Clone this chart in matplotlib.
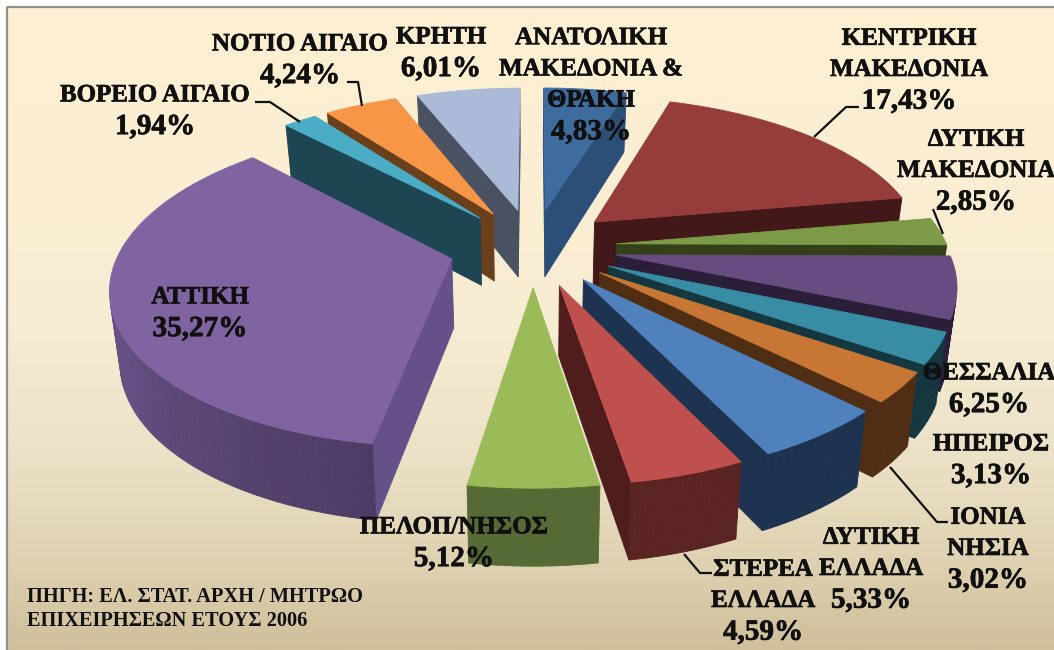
import numpy as np
import matplotlib
matplotlib.use("Agg")
import matplotlib.pyplot as plt
import matplotlib.patheffects as pe
from matplotlib.colors import to_rgb, to_hex
from matplotlib.patches import Polygon, Rectangle

regions = ["ΑΝΑΤΟΛΙΚΗ\nΜΑΚΕΔΟΝΙΑ &\nΘΡΑΚΗ", "ΚΕΝΤΡΙΚΗ\nΜΑΚΕΔΟΝΙΑ", "ΔΥΤΙΚΗ\nΜΑΚΕΔΟΝΙΑ", "ΘΕΣΣΑΛΙΑ",
           "ΗΠΕΙΡΟΣ", "ΙΟΝΙΑ\nΝΗΣΙΑ", "ΔΥΤΙΚΗ\nΕΛΛΑΔΑ", "ΣΤΕΡΕΑ\nΕΛΛΑΔΑ", "ΠΕΛΟΠ/ΝΗΣΟΣ",
           "ΑΤΤΙΚΗ", "ΒΟΡΕΙΟ ΑΙΓΑΙΟ", "ΝΟΤΙΟ ΑΙΓΑΙΟ", "ΚΡΗΤΗ"]
shares = [4.83, 17.43, 2.85, 6.25, 3.13, 3.02, 5.33, 4.59, 5.12, 35.27, 1.94, 4.24, 6.01]
top_colors = ["#3F6C9F", "#963D3C", "#7C9A47", "#664C80", "#388CA4", "#C77733", "#4F81BD",
              "#C0504D", "#9BBB59", "#8064A2", "#4BACC6", "#F79646", "#AABAD7"]
radial_colors = ["#2C4F78", "#431819", "#33401A", "#2B1E38", "#15373F", "#4F2E14", "#1E3350",
                 "#4F1D1C", "#516432", "#66508A", "#1E4552", "#6A3F1C", "#4A5262"]
wall_colors = ["#2C4F78", "#431819", "#33401A", "#2B1E38", "#15373F", "#4F2E14", "#1E3350",
               "#5A2422", "#566A35", "#705892", "#1E4552", "#6A3F1C", "#4A5262"]
label_xy = [(591, 82), (909, 67), (976, 168), (989, 386), (991, 457), (988, 546), (871, 566),
            (763, 598), (454, 540), (200, 310), (155, 108), (300, 57), (441, 50)]
leader_x = {1: [859, 846, 814], 2: [933, 943], 5: [948, 937, 890], 7: [712, 700, 684],
            10: [255, 270, 300], 11: [347, 358, 362]}
leader_y = {1: [107, 107, 137], 2: [209, 234], 5: [522, 522, 467], 7: [573, 573, 554],
            10: [102, 102, 122], 11: [82, 82, 106]}
source_lines = ["ΠΗΓΗ: ΕΛ. ΣΤΑΤ. ΑΡΧΗ / ΜΗΤΡΩΟ", "ΕΠΙΧΕΙΡΗΣΕΩΝ ΕΤΟΥΣ 2006"]

CX, CY, A, B, K = 533, 247, 331, 153, 0.163
EXPLODE = 0.254
SHRINK = 0.975
FONT = "Liberation Serif"
LINE_STEP = 31.2
HEAVY = [pe.withStroke(linewidth=0.5, foreground="#101010")]


def project(u, v):
    p = 1 + K * v
    return CX + A * u / p, CY - B * v / p


def project_low(u, v):
    x, y = project(u, v)
    return CX + (x - CX) * SHRINK, y + 68.5 - 7.6 * v


def shade(color, f):
    return to_hex(np.clip(np.array(to_rgb(color)) * f, 0, 1))


def face(ax, pts, color, z):
    ax.add_patch(Polygon(pts, closed=True, facecolor=color, edgecolor=color, lw=0.6, zorder=z))


def wall(ax, a, b, color, z):
    """Quad between two plane points, culled if it faces away from the viewer."""
    pts = [project(*a), project(*b), project_low(*b), project_low(*a)]
    x, y = np.array(pts).T
    area = 0.5 * np.sum(x * np.roll(y, -1) - np.roll(x, -1) * y)
    if area < 0:
        face(ax, pts, color, z)


fig = plt.figure(figsize=(10.54, 6.5), dpi=100, facecolor="white")
ax = fig.add_axes([0, 0, 1, 1])
ax.axis("off")

stops_y = [8, 200, 330, 460, 560, 650]
stops = np.array([to_rgb(c) for c in ["#FEF0D3", "#FBEED2", "#F6ECD3", "#EBE1C6", "#DFD2B2", "#CFBF9B"]])
grad_y = np.linspace(8, 650, 642)
grad = np.stack([np.interp(grad_y, stops_y, stops[:, i]) for i in range(3)], axis=1)[:, None, :]
ax.imshow(grad, extent=(7, 1054, 650, 7), aspect="auto", zorder=0, interpolation="bilinear")
ax.set_xlim(0, 1054)
ax.set_ylim(650, 0)
ax.add_patch(Rectangle((6.5, 6.5), 1060, 660, facecolor="none", edgecolor="#8F8F8F", lw=1.6, zorder=1))

edges = np.cumsum([0] + shares) / sum(shares) * 2 * np.pi
slices = []
for i in range(len(shares)):
    mid = 0.5 * (edges[i] + edges[i + 1])
    ou, ov = EXPLODE * np.sin(mid), EXPLODE * np.cos(mid)
    th = np.linspace(edges[i], edges[i + 1], max(6, int(shares[i] * 3)))
    arc = np.column_stack([ou + np.sin(th), ov + np.cos(th)])
    slices.append((project(ou, ov)[1], i, (ou, ov), arc))

for rank, (_, i, tip, arc) in enumerate(sorted(slices, key=lambda s: s[0])):
    z = 2 + rank
    wall(ax, tip, arc[0], radial_colors[i], z)
    wall(ax, arc[-1], tip, radial_colors[i], z)
    n = len(arc) - 1
    for j in range(n):
        # the largest slice's outer wall darkens towards its front end
        f = 0.68 + 0.5 * j / max(n - 1, 1) if i == 9 else 1.0
        wall(ax, arc[j], arc[j + 1], shade(wall_colors[i], f), z)
    top = [project(*tip)] + [project(u, v) for u, v in arc]
    face(ax, top, top_colors[i], z + 0.5)

for i in leader_x:
    ax.plot(leader_x[i], leader_y[i], color="#111111", lw=1.6, zorder=30, solid_capstyle="butt")

for name, val, (x, y) in zip(regions, shares, label_xy):
    lines = name.split("\n") + [f"{val:.2f}%".replace(".", ",")]
    y0 = y - LINE_STEP * (len(lines) - 1) / 2
    for k, line in enumerate(lines):
        is_value = k == len(lines) - 1
        ax.text(x, y0 + k * LINE_STEP, line, ha="center", va="center_baseline", family=FONT,
                weight="bold", fontsize=21 if is_value else 18, color="#101010", zorder=40,
                path_effects=HEAVY)

for line, y in zip(source_lines, [597, 621]):
    ax.text(27, y, line, ha="left", va="center", family=FONT, weight="bold",
            fontsize=14.7, color="#101010", zorder=40)

fig.savefig("out.png", dpi=100, facecolor="white")
